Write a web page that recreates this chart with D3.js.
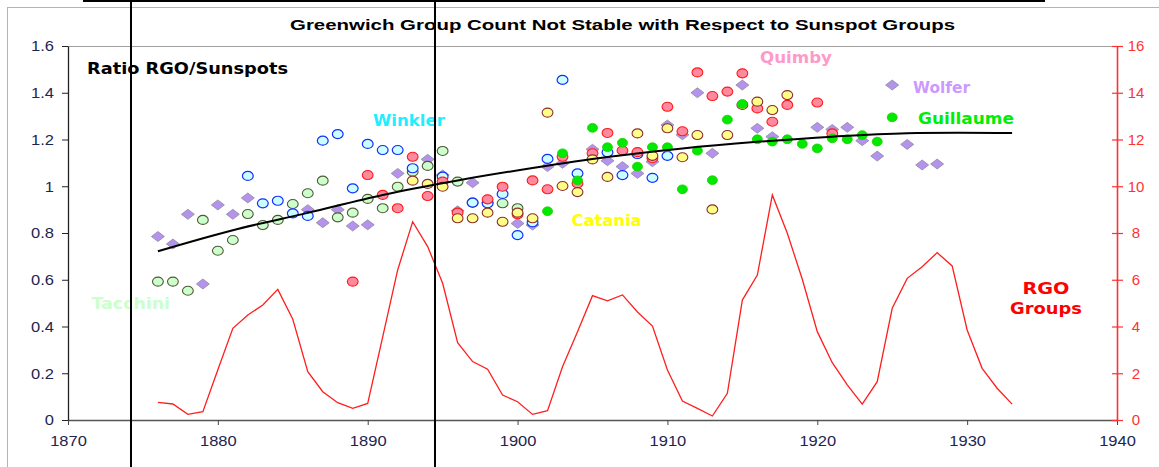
<!DOCTYPE html>
<html>
<head>
<meta charset="utf-8">
<script src="https://cdn.jsdelivr.net/npm/d3@7"></script>
<style>
  html, body { margin: 0; padding: 0; background: #fff; }
  svg { display: block; }
</style>
</head>
<body>
<svg id="chart" width="1159" height="467"></svg>
<script>
// ---- Data -------------------------------------------------------------
const xTicks = [1870, 1880, 1890, 1900, 1910, 1920, 1930, 1940];
const leftTicks = [0, 0.2, 0.4, 0.6, 0.8, 1, 1.2, 1.4, 1.6];
const leftTickLabels = ["0", "0.2", "0.4", "0.6", "0.8", "1", "1.2", "1.4", "1.6"];
const rightTicks = [0, 2, 4, 6, 8, 10, 12, 14, 16];

// Ratio RGO / observer group counts
const wolferYears = [1876,1877,1878,1879,1880,1881,1882,1886,1887,1888,1889,1890,1892,1894,1895,1896,1897,1900,1901,1902,1903,1905,1906,1907,1908,1909,1910,1911,1912,1913,1915,1916,1917,1920,1921,1922,1923,1924,1925,1926,1927,1928];
const wolferRatio = [0.785,0.753,0.88,0.582,0.92,0.88,0.95,0.90,0.844,0.90,0.83,0.835,1.055,1.115,1.048,0.895,1.015,0.841,0.834,1.084,1.098,1.158,1.109,1.084,1.055,1.105,1.262,1.22,1.40,1.141,1.433,1.248,1.212,1.252,1.243,1.252,1.195,1.129,1.433,1.179,1.091,1.095];

const tacchiniYears = [1876,1877,1878,1879,1880,1881,1882,1883,1884,1885,1886,1887,1888,1889,1890,1891,1892,1893,1894,1895,1896,1897,1898,1899,1900];
const tacchiniRatio = [0.592,0.592,0.553,0.856,0.724,0.77,0.881,0.834,0.856,0.924,0.97,1.024,0.867,0.887,0.946,0.906,0.998,1.062,1.087,1.151,1.02,0.93,0.93,0.927,0.906];

const winklerYears = [1882,1883,1884,1885,1886,1887,1888,1889,1890,1891,1892,1893,1895,1897,1898,1899,1900,1901,1902,1903,1904,1906,1907,1908,1909,1910];
const winklerRatio = [1.044,0.927,0.938,0.884,0.873,1.195,1.223,0.991,1.181,1.155,1.155,1.077,1.041,0.93,0.927,0.967,0.791,0.846,1.117,1.455,1.055,1.145,1.048,1.138,1.036,1.13];

const quimbyYears = [1889,1890,1891,1892,1893,1894,1895,1896,1898,1899,1900,1901,1902,1903,1904,1905,1906,1907,1908,1909,1910,1911,1912,1913,1914,1915,1916,1917,1918,1920,1921];
const quimbyRatio = [0.592,1.048,0.963,0.906,1.126,0.958,1.02,0.887,0.944,0.998,0.88,1.025,0.987,1.126,1.012,1.141,1.228,1.153,1.146,1.12,1.34,1.235,1.487,1.386,1.405,1.483,1.333,1.276,1.348,1.358,1.226];

const cataniaYears = [1893,1894,1895,1896,1897,1898,1899,1900,1901,1902,1903,1904,1905,1906,1908,1909,1910,1911,1912,1913,1914,1915,1916,1917,1918];
const cataniaRatio = [1.024,1.01,0.998,0.863,0.863,0.887,0.848,0.887,0.863,1.315,1.001,0.975,1.115,1.04,1.226,1.13,1.248,1.124,1.219,0.901,1.219,1.348,1.362,1.326,1.39];

const guillaumeYears = [1902,1903,1904,1905,1906,1907,1908,1909,1910,1911,1912,1913,1914,1915,1916,1917,1918,1919,1920,1921,1922,1923,1924,1925];
const guillaumeRatio = [0.893,1.141,1.025,1.25,1.167,1.186,1.084,1.167,1.167,0.987,1.152,1.026,1.285,1.352,1.201,1.191,1.201,1.181,1.162,1.205,1.201,1.219,1.191,1.295];

// Trend of the ratio
const trendYears = [1876,1881,1886,1891,1896,1901,1906,1911,1916,1921,1926,1933];
const trendRatio = [0.722,0.812,0.886,0.963,1.025,1.078,1.125,1.162,1.190,1.212,1.227,1.228];

// RGO yearly mean group count (right axis)
const rgoYears = d3.range(1876, 1934);
const rgoGroups = [0.757,0.685,0.243,0.357,2.15,3.92,4.49,4.92,5.59,4.31,2.07,1.21,0.74,0.50,0.71,3.56,6.42,8.48,7.42,5.85,3.31,2.50,2.17,1.07,0.78,0.24,0.40,2.28,3.78,5.32,5.10,5.35,4.62,4.02,2.14,0.81,0.50,0.17,1.14,5.13,6.20,9.63,7.99,6.02,3.78,2.45,1.50,0.68,1.64,4.78,6.06,6.56,7.16,6.59,3.85,2.21,1.36,0.68];

// ---- Layout -----------------------------------------------------------
const svg = d3.select("#chart");
const plotLeft = 68, plotRight = 1117, plotTop = 46, plotBottom = 420;

const x = d3.scaleLinear().domain([1870, 1940]).range([plotLeft, plotRight]);
const yL = d3.scaleLinear().domain([0, 1.6]).range([plotBottom, plotTop]);
const yR = d3.scaleLinear().domain([0, 16]).range([plotBottom, plotTop]);

const zip = (a, b) => a.map((v, i) => [v, b[i]]);

// outer chart frame and the box edge above it
svg.append("rect").attr("x", 7.5).attr("y", 7.5).attr("width", 1170).attr("height", 480)
  .attr("fill", "#fff").attr("stroke", "#b4b4b4").attr("stroke-width", 1);
svg.append("path").attr("d", "M84,-6V1H1044V-6")
  .attr("fill", "none").attr("stroke", "#000").attr("stroke-width", 2);

// plot top border
svg.append("line").attr("x1", plotLeft).attr("x2", plotRight).attr("y1", plotTop + 0.5).attr("y2", plotTop + 0.5)
  .attr("stroke", "#a0a0a0").attr("stroke-width", 1);

// title
svg.append("text").attr("x", 290).attr("y", 30)
  .attr("font-family", "'Liberation Sans', Arial, sans-serif").attr("font-weight", "bold")
  .attr("font-size", 15).attr("fill", "#000")
  .attr("textLength", 665).attr("lengthAdjust", "spacingAndGlyphs")
  .text("Greenwich Group Count Not Stable with Respect to Sunspot Groups");

const tickFont = "'Liberation Sans', Arial, sans-serif";
const stretch = (sel, k) => sel.each(function () {
  const w = this.getComputedTextLength();
  d3.select(this).attr("textLength", w * k).attr("lengthAdjust", "spacingAndGlyphs");
});

// left axis
const gL = svg.append("g").attr("transform", `translate(${plotLeft},0)`)
  .call(d3.axisLeft(yL).tickValues(leftTicks).tickSize(6).tickSizeOuter(0)
    .tickFormat((d, i) => leftTickLabels[i]));
gL.select(".domain").attr("stroke", "#222").attr("stroke-width", 1.3);
gL.selectAll(".tick line").attr("stroke", "#222");
gL.selectAll(".tick text").attr("x", -14).attr("font-family", tickFont).attr("font-size", 15)
  .attr("fill", "#1e2550").call(stretch, 1.1);

// bottom axis
const gB = svg.append("g").attr("transform", `translate(0,${plotBottom})`)
  .call(d3.axisBottom(x).tickValues(xTicks).tickSize(5).tickSizeOuter(0).tickFormat(d3.format("d")));
gB.select(".domain").attr("stroke", "#555").attr("stroke-width", 1.5);
gB.selectAll(".tick line").attr("stroke", "#444");
gB.selectAll(".tick text").attr("y", 26).attr("dy", 0).attr("font-family", tickFont)
  .attr("font-size", 15).attr("fill", "#1e2550").call(stretch, 1.1);

// right axis
const gR = svg.append("g").attr("transform", `translate(${plotRight},0)`)
  .call(d3.axisRight(yR).tickValues(rightTicks).tickSize(5).tickSizeOuter(0));
gR.select(".domain").attr("stroke", "#ff3030").attr("stroke-width", 1.6);
gR.selectAll(".tick line").attr("x1", -5).attr("x2", 6).attr("stroke", "#ff3030").attr("stroke-width", 1.2);
gR.selectAll(".tick text").attr("x", 19).attr("text-anchor", "middle").attr("font-family", tickFont)
  .attr("font-size", 15).attr("fill", "#ff3333");

// ---- Marks ------------------------------------------------------------
const plot = svg.append("g");

function diamonds(years, vals, fill, stroke) {
  plot.append("g").selectAll("path").data(zip(years, vals)).join("path")
    .attr("transform", d => `translate(${x(d[0])},${yL(d[1])})`)
    .attr("d", "M0,-5L6.5,0L0,5L-6.5,0Z")
    .attr("fill", fill).attr("stroke", stroke).attr("stroke-width", 0.8);
}
function rings(years, vals, fill, stroke, rx, ry, sw) {
  plot.append("g").selectAll("ellipse").data(zip(years, vals)).join("ellipse")
    .attr("cx", d => x(d[0])).attr("cy", d => yL(d[1]))
    .attr("rx", rx).attr("ry", ry)
    .attr("fill", fill).attr("stroke", stroke).attr("stroke-width", sw);
}

diamonds(wolferYears, wolferRatio, "#b493ec", "#8e8aa0");
rings(tacchiniYears, tacchiniRatio, "#ccffcc", "#4f5a37", 5.4, 4.5, 1.1);
rings(winklerYears, winklerRatio, "#ccffff", "#1030ff", 5.4, 4.5, 1.2);
rings(quimbyYears, quimbyRatio, "#ff8aa0", "#ff1a1a", 5.4, 4.5, 1.1);
rings(cataniaYears, cataniaRatio, "#ffff88", "#8a2f2f", 5.4, 4.5, 1.1);
rings(guillaumeYears, guillaumeRatio, "#00ea00", "#22cc00", 5, 4.4, 0.8);

// trend of the ratio
plot.append("path").datum(zip(trendYears, trendRatio))
  .attr("d", d3.line().x(d => x(d[0])).y(d => yL(d[1])).curve(d3.curveCatmullRom))
  .attr("fill", "none").attr("stroke", "#000").attr("stroke-width", 2);

// RGO group count
plot.append("path").datum(zip(rgoYears, rgoGroups))
  .attr("d", d3.line().x(d => x(d[0])).y(d => yR(d[1])))
  .attr("fill", "none").attr("stroke", "#ff1e1e").attr("stroke-width", 1.3);

// ---- Labels -----------------------------------------------------------
const labels = [
  { t: "Ratio RGO/Sunspots", x: 87, y: 73.5, w: 201, c: "#000" },
  { t: "Winkler", x: 373, y: 126, w: 72, c: "#22eeff" },
  { t: "Quimby", x: 760, y: 63, w: 72, c: "#ff99cc" },
  { t: "Wolfer", x: 913, y: 93, w: 57, c: "#cc99ff" },
  { t: "Guillaume", x: 918, y: 123.5, w: 96, c: "#00ee00" },
  { t: "Catania", x: 571.5, y: 225.5, w: 70, c: "#ffff00" },
  { t: "Tacchini", x: 91.5, y: 309, w: 78.5, c: "#ccffcc" },
  { t: "RGO", x: 1022.5, y: 293.5, w: 47, c: "#ff0000" },
  { t: "Groups", x: 1010, y: 313.5, w: 72, c: "#ff0000" }
];
svg.append("g").selectAll("text").data(labels).join("text")
  .attr("x", d => d.x).attr("y", d => d.y)
  .attr("font-family", "'DejaVu Sans', Verdana, sans-serif").attr("font-weight", "bold")
  .attr("font-size", 15).attr("fill", d => d.c)
  .attr("textLength", d => d.w).attr("lengthAdjust", "spacingAndGlyphs")
  .text(d => d.t);

// vertical guide lines
[131, 435].forEach(px => {
  svg.append("line").attr("x1", px).attr("x2", px).attr("y1", 0).attr("y2", 467)
    .attr("stroke", "#000").attr("stroke-width", 2);
});
</script>
</body>
</html>
